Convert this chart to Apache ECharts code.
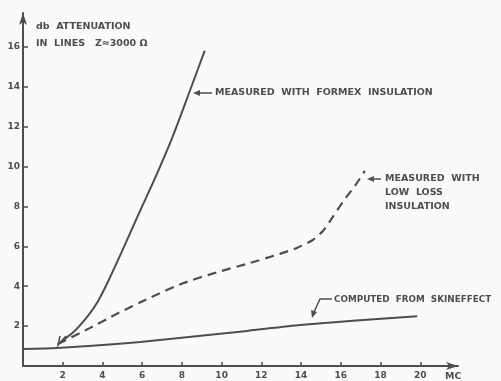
<!DOCTYPE html>
<html><head><meta charset="utf-8">
<script src="https://cdn.jsdelivr.net/npm/echarts@6/dist/echarts.min.js"></script>
<style>html,body{margin:0;padding:0;background:#fafafa}#c{width:501px;height:381px}</style>
</head><body><div id="c"></div>
<script>
// Tick labels
const xTicks = [2, 4, 6, 8, 10, 12, 14, 16, 18, 20];
const yTicks = [2, 4, 6, 8, 10, 12, 14, 16];
// Measured with Formex insulation (MC, db)
const formexX = [1.76, 2.6, 3.26, 3.76, 4.27, 4.97, 5.78, 6.63, 7.49, 8.29, 9.15];
const formexY = [1.1, 1.76, 2.5, 3.22, 4.21, 5.72, 7.53, 9.38, 11.39, 13.5, 15.81];
// Measured with low loss insulation
const lowLossX = [1.76, 3.36, 4.73, 6.38, 8.05, 9.76, 11.27, 12.93, 13.79, 14.59, 15.1, 15.6, 16.1, 16.71, 17.21];
const lowLossY = [1.1, 1.9, 2.62, 3.42, 4.15, 4.7, 5.12, 5.62, 5.92, 6.32, 6.77, 7.48, 8.23, 9.03, 9.78];
// Computed from skin effect
const skinX = [0, 1.71, 5.9, 11.28, 13.95, 19.85];
const skinY = [0.85, 0.9, 1.2, 1.76, 2.06, 2.5];

const ink = '#4e4e4e';
const font = '"DejaVu Sans", sans-serif';
const zip = (a, b) => a.map((v, i) => [v, b[i]]);

const chart = echarts.init(document.getElementById('c'), null, {renderer: 'canvas'});
const txt = (x, y, s, size) => ({type: 'text', x: x, y: y, style: {text: s, fill: ink, font: 'bold ' + (size || 9.5) + 'px ' + font, textAlign: 'left', textVerticalAlign: 'middle'}});
const seg = (pts) => ({type: 'polyline', shape: {points: pts}, style: {stroke: ink, lineWidth: 1.5, fill: null}});
const head = (pts) => ({type: 'polygon', shape: {points: pts}, style: {fill: ink}});

chart.setOption({
  backgroundColor: '#fafafa',
  animation: false,
  grid: {left: 23, right: 43, top: 13, bottom: 15, outerBoundsMode: 'none'},
  xAxis: {
    type: 'value', min: 0, max: 21.9, interval: 2,
    splitLine: {show: false},
    axisLine: {lineStyle: {color: ink, width: 2}, symbol: ['none', 'arrow'], symbolSize: [6, 12]},
    axisTick: {inside: true, length: 4, lineStyle: {color: ink, width: 1.5}, customValues: xTicks},
    axisLabel: {color: ink, fontSize: 9, fontWeight: 'bold', fontFamily: font, margin: 5, customValues: xTicks}
  },
  yAxis: {
    type: 'value', min: 0, max: 17.7, interval: 2,
    splitLine: {show: false},
    axisLine: {lineStyle: {color: ink, width: 2}, symbol: ['none', 'arrow'], symbolSize: [6, 12]},
    axisTick: {inside: true, length: 5, lineStyle: {color: ink, width: 1.5}, customValues: yTicks},
    axisLabel: {color: ink, fontSize: 9, fontWeight: 'bold', fontFamily: font, margin: 3, customValues: yTicks}
  },
  series: [
    {type: 'line', data: zip(formexX, formexY), smooth: 0.2, showSymbol: false, lineStyle: {color: ink, width: 2}},
    {type: 'line', data: zip(lowLossX, lowLossY), smooth: 0.2, showSymbol: false, lineStyle: {color: ink, width: 2.2, type: [9, 6]}},
    {type: 'line', data: zip(skinX, skinY), smooth: 0.2, showSymbol: false, lineStyle: {color: ink, width: 2}}
  ],
  graphic: [
    txt(36, 27, 'db  ATTENUATION'),
    txt(36, 44, 'IN  LINES   Z≈3000 Ω'),
    txt(215, 93, 'MEASURED  WITH  FORMEX  INSULATION'),
    txt(385, 179, 'MEASURED  WITH'),
    txt(385, 193, 'LOW  LOSS'),
    txt(385, 207, 'INSULATION'),
    txt(334, 300, 'COMPUTED  FROM  SKINEFFECT', 8.8),
    txt(445, 377, 'MC'),
    seg([[212, 93], [197, 93]]),
    head([[193, 93], [200, 90], [200, 96]]),
    seg([[381, 179], [371, 179]]),
    head([[367, 179], [374, 176], [374, 182]]),
    seg([[332, 299], [320, 299], [314, 312]]),
    head([[312, 318], [311, 310], [317, 312]]),
    seg([[66, 336], [58, 345], [60, 336]])
  ]
});
</script></body></html>
